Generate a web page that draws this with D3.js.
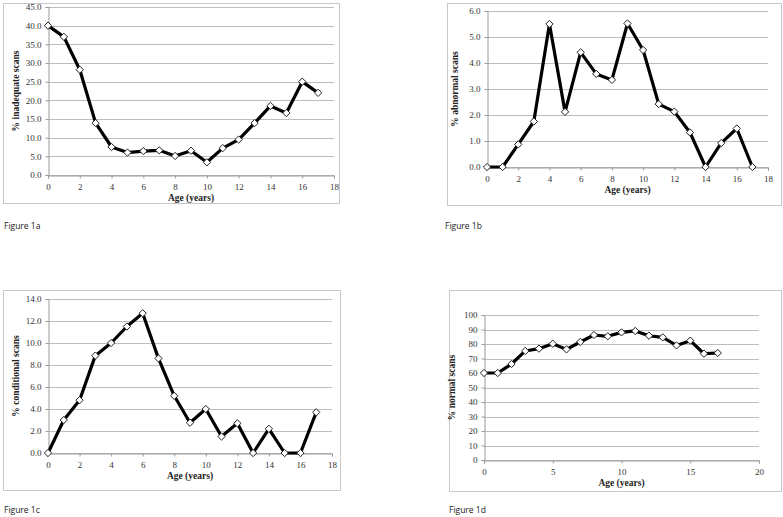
<!DOCTYPE html>
<html>
<head>
<meta charset="utf-8">
<script src="https://cdn.jsdelivr.net/npm/d3@7"></script>
<style>
  body { margin: 0; background: #fff; }
  svg { display: block; }
  .tick text { font-family: "Liberation Serif", "DejaVu Serif", serif; font-size: 9px; fill: #333; }
  .axis-title { font-family: "Liberation Serif", "DejaVu Serif", serif; font-size: 9.5px; font-weight: bold; fill: #222; }
  .fig-label { font-family: "Open Sans", "Liberation Sans", sans-serif; font-size: 8.5px; fill: #222; }
</style>
</head>
<body>
<svg id="chart"></svg>
<script>
const W = 783, H = 517;

const ages = [0, 1, 2, 3, 4, 5, 6, 7, 8, 9, 10, 11, 12, 13, 14, 15, 16, 17];
const inadequate = [40.0, 37.0, 28.2, 13.9, 7.5, 6.0, 6.4, 6.6, 5.1, 6.5, 3.4, 7.2, 9.5, 13.9, 18.5, 16.6, 25.0, 22.0];
const abnormal = [0.0, 0.0, 0.87, 1.75, 5.5, 2.12, 4.41, 3.58, 3.35, 5.52, 4.5, 2.42, 2.13, 1.33, 0.0, 0.92, 1.48, 0.0];
const conditional = [0.0, 3.0, 4.8, 8.85, 10.0, 11.5, 12.7, 8.6, 5.2, 2.75, 4.0, 1.5, 2.7, 0.0, 2.2, 0.0, 0.0, 3.7];
const normal = [60.0, 60.0, 66.2, 75.2, 76.8, 80.2, 76.3, 81.4, 86.2, 85.3, 88.0, 89.0, 85.7, 84.6, 79.0, 82.3, 73.3, 73.8];

const xTicks18 = [0, 2, 4, 6, 8, 10, 12, 14, 16, 18];
const xTicks20 = [0, 5, 10, 15, 20];
const yTicksA = [0, 5, 10, 15, 20, 25, 30, 35, 40, 45];
const yTicksB = [0, 1, 2, 3, 4, 5, 6];
const yTicksC = [0, 2, 4, 6, 8, 10, 12, 14];
const yTicksD = [0, 10, 20, 30, 40, 50, 60, 70, 80, 90, 100];

const yTitles = ['% inadequate scans', '% abnormal scans', '% conditional scans', '% normal scans'];
const figLabels = ['Figure 1a', 'Figure 1b', 'Figure 1c', 'Figure 1d'];

const svg = d3.select('#chart').attr('width', W).attr('height', H);

// one entry per panel: frame box, plot box, axes
const panels = [
  { values: inadequate, yTicks: yTicksA, xTicks: xTicks18, xMax: 18, yFmt: d3.format('.1f'),
    frame: [3, 3, 336, 200], plot: [48, 7, 334, 175], label: [4, 229], title: 0 },
  { values: abnormal, yTicks: yTicksB, xTicks: xTicks18, xMax: 18, yFmt: d3.format('.1f'),
    frame: [447, 3, 334, 202], plot: [487, 11, 768, 167], label: [445, 229], title: 1 },
  { values: conditional, yTicks: yTicksC, xTicks: xTicks18, xMax: 18, yFmt: d3.format('.1f'),
    frame: [3, 290, 337, 200], plot: [48, 299, 332, 453], label: [4, 513], title: 2 },
  { values: normal, yTicks: yTicksD, xTicks: xTicks20, xMax: 20, yFmt: d3.format('d'),
    frame: [449, 290, 332, 201], plot: [484, 315, 759, 460], label: [449, 513], title: 3 }
];

panels.forEach((p) => {
  const [x0, y0, x1, y1] = p.plot;
  const g = svg.append('g');

  g.append('rect')
    .attr('x', p.frame[0] + 0.5).attr('y', p.frame[1] + 0.5)
    .attr('width', p.frame[2]).attr('height', p.frame[3])
    .attr('fill', 'none').attr('stroke', '#c8c8c8').attr('stroke-width', 1);

  const x = d3.scaleLinear().domain([0, p.xMax]).range([x0, x1]);
  const y = d3.scaleLinear().domain([0, d3.max(p.yTicks)]).range([y1, y0]);

  // gridlines
  g.append('g')
    .selectAll('line')
    .data(p.yTicks)
    .join('line')
    .attr('x1', x0).attr('x2', x1)
    .attr('y1', (d) => Math.round(y(d)) + 0.5).attr('y2', (d) => Math.round(y(d)) + 0.5)
    .attr('stroke', '#bdbdbd').attr('stroke-width', 1);

  const yAxis = g.append('g')
    .attr('transform', `translate(${Math.round(x0) + 0.5},0)`)
    .call(d3.axisLeft(y).tickValues(p.yTicks).tickFormat(p.yFmt).tickSize(3).tickPadding(4));
  const xAxis = g.append('g')
    .attr('transform', `translate(0,${Math.round(y1) + 0.5})`)
    .call(d3.axisBottom(x).tickValues(p.xTicks).tickFormat(d3.format('d')).tickSize(3).tickPadding(5));
  [yAxis, xAxis].forEach((a) => {
    a.select('.domain').attr('stroke', '#9a9a9a');
    a.selectAll('.tick line').attr('stroke', '#9a9a9a');
  });

  const line = d3.line().x((d, i) => x(ages[i])).y((d) => y(d));
  g.append('path')
    .datum(p.values)
    .attr('d', line)
    .attr('fill', 'none')
    .attr('stroke', '#000')
    .attr('stroke-width', 3.2)
    .attr('stroke-linejoin', 'round');

  g.append('g')
    .selectAll('path')
    .data(p.values)
    .join('path')
    .attr('d', d3.symbol(d3.symbolDiamond2, 34))
    .attr('transform', (d, i) => `translate(${x(ages[i])},${y(d)})`)
    .attr('fill', '#fff')
    .attr('stroke', '#222')
    .attr('stroke-width', 1);

  g.append('text')
    .attr('class', 'axis-title')
    .attr('x', (x0 + x1) / 2)
    .attr('y', y1 + 26)
    .attr('text-anchor', 'middle')
    .text('Age (years)');

  g.append('text')
    .attr('class', 'axis-title')
    .attr('transform', `translate(${x0 - 29},${(y0 + y1) / 2}) rotate(-90)`)
    .attr('text-anchor', 'middle')
    .text(yTitles[p.title]);

  svg.append('text')
    .attr('class', 'fig-label')
    .attr('x', p.label[0]).attr('y', p.label[1])
    .text(figLabels[p.title]);
});
</script>
</body>
</html>
